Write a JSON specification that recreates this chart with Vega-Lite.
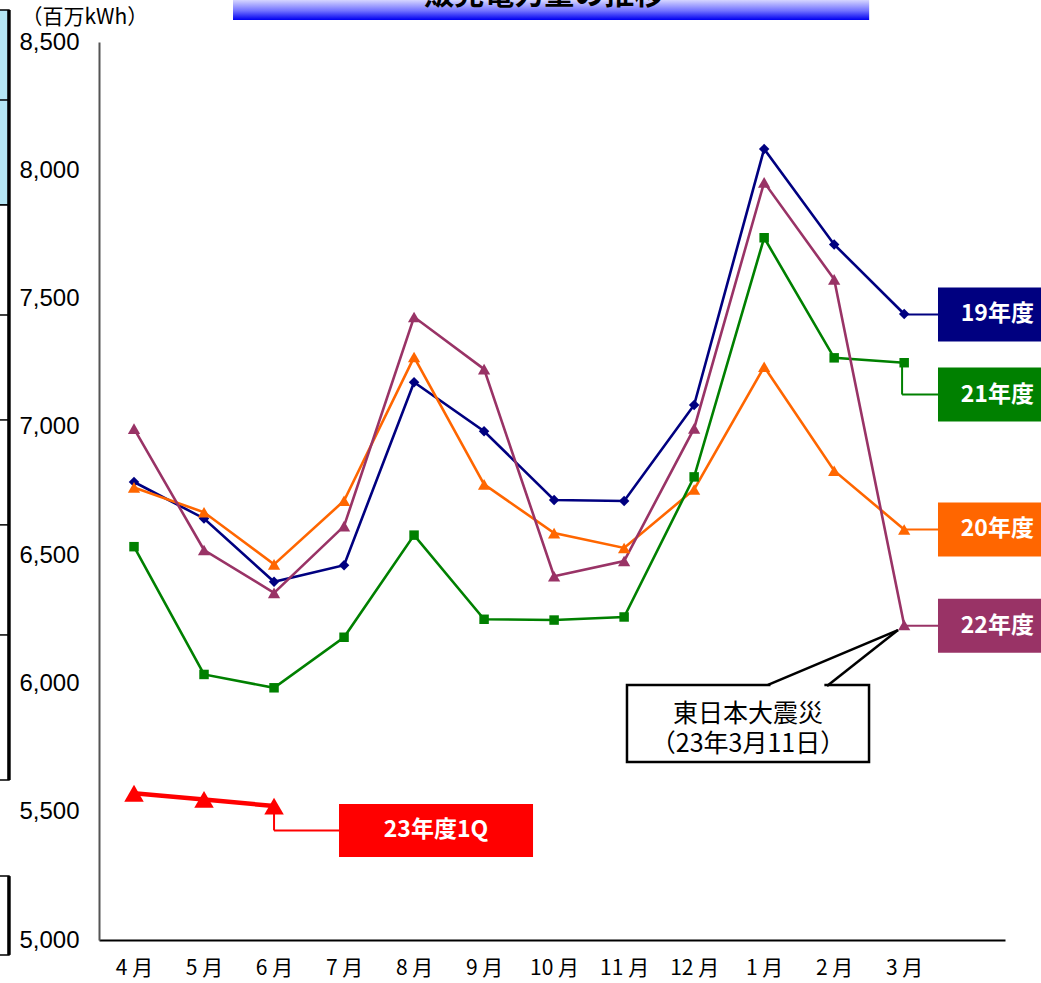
{
  "$schema": "https://vega.github.io/schema/vega-lite/v6.json",
  "width": 906,
  "height": 898,
  "autosize": {"type": "none"},
  "padding": {"left": 99, "top": 42, "right": 36, "bottom": 43},
  "background": "white",
  "config": {"view": {"stroke": null}, "font": "Noto Sans CJK JP"},
  "datasets": {
    "sales": [
      {"month": "4 月", "m": 1, "series": "19年度", "value": 6785},
      {"month": "5 月", "m": 2, "series": "19年度", "value": 6643},
      {"month": "6 月", "m": 3, "series": "19年度", "value": 6396},
      {"month": "7 月", "m": 4, "series": "19年度", "value": 6461},
      {"month": "8 月", "m": 5, "series": "19年度", "value": 7174},
      {"month": "9 月", "m": 6, "series": "19年度", "value": 6983},
      {"month": "10 月", "m": 7, "series": "19年度", "value": 6715},
      {"month": "11 月", "m": 8, "series": "19年度", "value": 6711},
      {"month": "12 月", "m": 9, "series": "19年度", "value": 7085},
      {"month": "1 月", "m": 10, "series": "19年度", "value": 8083},
      {"month": "2 月", "m": 11, "series": "19年度", "value": 7711},
      {"month": "3 月", "m": 12, "series": "19年度", "value": 7440},
      {"month": "4 月", "m": 1, "series": "20年度", "value": 6764},
      {"month": "5 月", "m": 2, "series": "20年度", "value": 6667},
      {"month": "6 月", "m": 3, "series": "20年度", "value": 6464},
      {"month": "7 月", "m": 4, "series": "20年度", "value": 6712},
      {"month": "8 月", "m": 5, "series": "20年度", "value": 7272},
      {"month": "9 月", "m": 6, "series": "20年度", "value": 6776},
      {"month": "10 月", "m": 7, "series": "20年度", "value": 6586},
      {"month": "11 月", "m": 8, "series": "20年度", "value": 6528},
      {"month": "12 月", "m": 9, "series": "20年度", "value": 6756},
      {"month": "1 月", "m": 10, "series": "20年度", "value": 7234},
      {"month": "2 月", "m": 11, "series": "20年度", "value": 6829},
      {"month": "3 月", "m": 12, "series": "20年度", "value": 6600},
      {"month": "4 月", "m": 1, "series": "21年度", "value": 6533},
      {"month": "5 月", "m": 2, "series": "21年度", "value": 6035},
      {"month": "6 月", "m": 3, "series": "21年度", "value": 5983},
      {"month": "7 月", "m": 4, "series": "21年度", "value": 6180},
      {"month": "8 月", "m": 5, "series": "21年度", "value": 6578},
      {"month": "9 月", "m": 6, "series": "21年度", "value": 6250},
      {"month": "10 月", "m": 7, "series": "21年度", "value": 6247},
      {"month": "11 月", "m": 8, "series": "21年度", "value": 6259},
      {"month": "12 月", "m": 9, "series": "21年度", "value": 6805},
      {"month": "1 月", "m": 10, "series": "21年度", "value": 7737},
      {"month": "2 月", "m": 11, "series": "21年度", "value": 7269},
      {"month": "3 月", "m": 12, "series": "21年度", "value": 7250},
      {"month": "4 月", "m": 1, "series": "22年度", "value": 6993},
      {"month": "5 月", "m": 2, "series": "22年度", "value": 6520},
      {"month": "6 月", "m": 3, "series": "22年度", "value": 6353},
      {"month": "7 月", "m": 4, "series": "22年度", "value": 6613},
      {"month": "8 月", "m": 5, "series": "22年度", "value": 7428},
      {"month": "9 月", "m": 6, "series": "22年度", "value": 7225},
      {"month": "10 月", "m": 7, "series": "22年度", "value": 6418},
      {"month": "11 月", "m": 8, "series": "22年度", "value": 6477},
      {"month": "12 月", "m": 9, "series": "22年度", "value": 6994},
      {"month": "1 月", "m": 10, "series": "22年度", "value": 7953},
      {"month": "2 月", "m": 11, "series": "22年度", "value": 7575},
      {"month": "3 月", "m": 12, "series": "22年度", "value": 6228},
      {"month": "4 月", "m": 1, "series": "23年度1Q", "value": 5572},
      {"month": "5 月", "m": 2, "series": "23年度1Q", "value": 5548},
      {"month": "6 月", "m": 3, "series": "23年度1Q", "value": 5522}
    ],
    "labels": [
      {"series": "19年度", "end": 7440, "lv": 7438},
      {"series": "21年度", "end": 7250, "lv": 7126},
      {"series": "20年度", "end": 6600, "lv": 6600},
      {"series": "22年度", "end": 6228, "lv": 6225},
      {"series": "23年度1Q", "end": 5522, "lv": 5427}
    ],
    "note": [
      {"text": "東日本大震災\n（23年3月11日）"}
    ],
    "title": [
      {"text": "販売電力量の推移"}
    ]
  },
  "layer": [
    {
      "data": {"name": "sales"},
      "transform": [{"filter": "datum.series !== '23年度1Q'"}],
      "mark": {"type": "line", "strokeWidth": 2.6},
      "encoding": {
        "x": {
          "field": "m", "type": "quantitative",
          "scale": {"domain": [0.5, 13.44], "nice": false, "zero": false},
          "axis": {
            "title": null,
            "values": [1, 2, 3, 4, 5, 6, 7, 8, 9, 10, 11, 12],
            "labelExpr": "['', '4 月', '5 月', '6 月', '7 月', '8 月', '9 月', '10 月', '11 月', '12 月', '1 月', '2 月', '3 月'][datum.value]",
            "labelFont": "Noto Sans CJK JP",
            "labelFontSize": 21,
            "labelColor": "black",
            "labelPadding": 17,
            "labelFlush": false,
            "labelOverlap": false,
            "ticks": false,
            "tickSize": 0,
            "grid": false,
            "domainColor": "black",
            "domainWidth": 2
          }
        },
        "y": {
          "field": "value", "type": "quantitative",
          "scale": {"domain": [5000, 8500], "nice": false, "zero": false},
          "axis": {
            "title": "（百万kWh）",
            "titleAngle": 0,
            "titleAlign": "left",
            "titleBaseline": "middle",
            "titleX": -78,
            "titleY": -25,
            "titleFont": "Noto Sans CJK JP",
            "titleFontSize": 21,
            "titleFontWeight": "normal",
            "titleColor": "black",
            "values": [5000, 5500, 6000, 6500, 7000, 7500, 8000, 8500],
            "labelExpr": "format(datum.value, ',')",
            "labelFont": "Liberation Sans",
            "labelFontSize": 24,
            "labelColor": "black",
            "labelPadding": 20,
            "labelOverlap": false,
            "labelFlush": false,
            "ticks": false,
            "tickSize": 0,
            "grid": false,
            "domainColor": "#555555",
            "domainWidth": 2
          }
        },
        "color": {
          "field": "series", "type": "nominal",
          "scale": {
            "domain": ["19年度", "20年度", "21年度", "22年度", "23年度1Q"],
            "range": ["#000080", "#FF6600", "#008000", "#993366", "#FF0000"]
          },
          "legend": null
        }
      }
    },
    {
      "data": {"values": [{}]},
      "mark": {"type": "rect", "fill": "#b4e6f4", "stroke": "black", "strokeWidth": 1.5},
      "encoding": {
        "x": {"datum": -1.0},
        "x2": {"datum": -0.786},
        "y": {"datum": 8625},
        "y2": {"datum": 7865}
      }
    },
    {
      "data": {"values": [{}]},
      "mark": {"type": "rect", "fill": "white", "stroke": "black", "strokeWidth": 1.5},
      "encoding": {
        "x": {"datum": -1.0},
        "x2": {"datum": -0.786},
        "y": {"datum": 7865},
        "y2": {"datum": 5624}
      }
    },
    {
      "data": {"values": [{"v": 8274}, {"v": 7436}, {"v": 7027}, {"v": 6618}, {"v": 6189}]},
      "mark": {"type": "rule", "color": "black", "strokeWidth": 1.5},
      "encoding": {
        "x": {"datum": -1.0},
        "x2": {"datum": -0.786},
        "y": {"field": "v", "type": "quantitative"}
      }
    },
    {
      "data": {"values": [{}]},
      "mark": {"type": "rule", "color": "black", "strokeWidth": 3.5},
      "encoding": {
        "x": {"datum": -0.786},
        "y": {"datum": 8625},
        "y2": {"datum": 5624}
      }
    },
    {
      "data": {"values": [{}]},
      "mark": {"type": "rect", "fill": "white", "stroke": "black", "strokeWidth": 1.5},
      "encoding": {
        "x": {"datum": -1.0},
        "x2": {"datum": -0.786},
        "y": {"datum": 5249},
        "y2": {"datum": 4942}
      }
    },
    {
      "data": {"values": [{}]},
      "mark": {"type": "rule", "color": "black", "strokeWidth": 3.5},
      "encoding": {
        "x": {"datum": -0.786},
        "y": {"datum": 5249},
        "y2": {"datum": 4942}
      }
    },
    {
      "data": {"values": [{}]},
      "mark": {
        "type": "rect",
        "fill": {
          "gradient": "linear", "x1": 0, "y1": 0, "x2": 0, "y2": 1,
          "stops": [
            {"offset": 0, "color": "#ffffff"},
            {"offset": 0.55, "color": "#d8d8ff"},
            {"offset": 0.8, "color": "#7070ff"},
            {"offset": 1, "color": "#0000f0"}
          ]
        }
      },
      "encoding": {
        "x": {"datum": 2.414},
        "x2": {"datum": 11.5},
        "y": {"datum": 8761},
        "y2": {"datum": 8586}
      }
    },
    {
      "data": {"name": "title"},
      "mark": {"type": "text", "fontSize": 30, "fontWeight": "bold", "color": "black", "baseline": "alphabetic", "align": "center", "font": "Noto Sans CJK JP"},
      "encoding": {
        "x": {"datum": 6.86},
        "y": {"datum": 8648},
        "text": {"field": "text"}
      }
    },
    {
      "data": {"name": "labels"},
      "transform": [{"filter": "datum.series !== '23年度1Q'"}],
      "mark": {"type": "rule", "strokeWidth": 2},
      "encoding": {
        "x": {"datum": 11.97},
        "y": {"field": "end", "type": "quantitative"},
        "y2": {"field": "lv"},
        "color": {"field": "series", "type": "nominal", "legend": null}
      }
    },
    {
      "data": {"name": "labels"},
      "transform": [{"filter": "datum.series !== '23年度1Q'"}],
      "mark": {"type": "rule", "strokeWidth": 2},
      "encoding": {
        "x": {"datum": 11.97},
        "x2": {"datum": 12.483},
        "y": {"field": "lv", "type": "quantitative"},
        "color": {"field": "series", "type": "nominal", "legend": null}
      }
    },
    {
      "data": {"name": "labels"},
      "transform": [{"filter": "datum.series === '23年度1Q'"}],
      "mark": {"type": "rule", "strokeWidth": 2},
      "encoding": {
        "x": {"datum": 3},
        "y": {"field": "end", "type": "quantitative"},
        "y2": {"field": "lv"},
        "color": {"field": "series", "type": "nominal", "legend": null}
      }
    },
    {
      "data": {"name": "labels"},
      "transform": [{"filter": "datum.series === '23年度1Q'"}],
      "mark": {"type": "rule", "strokeWidth": 2},
      "encoding": {
        "x": {"datum": 3},
        "x2": {"datum": 3.928},
        "y": {"field": "lv", "type": "quantitative"},
        "color": {"field": "series", "type": "nominal", "legend": null}
      }
    },
    {
      "data": {"name": "sales"},
      "transform": [{"filter": "datum.series === '19年度'"}],
      "mark": {"type": "point", "filled": true, "opacity": 1, "shape": "diamond", "size": 110},
      "encoding": {
        "x": {"field": "m", "type": "quantitative"},
        "y": {"field": "value", "type": "quantitative"},
        "color": {"field": "series", "type": "nominal", "legend": null}
      }
    },
    {
      "data": {"name": "sales"},
      "transform": [{"filter": "datum.series === '21年度'"}],
      "mark": {"type": "point", "filled": true, "opacity": 1, "shape": "square", "size": 90},
      "encoding": {
        "x": {"field": "m", "type": "quantitative"},
        "y": {"field": "value", "type": "quantitative"},
        "color": {"field": "series", "type": "nominal", "legend": null}
      }
    },
    {
      "data": {"name": "sales"},
      "transform": [{"filter": "datum.series === '20年度' || datum.series === '22年度'"}],
      "mark": {"type": "point", "filled": true, "opacity": 1, "shape": "triangle-up", "size": 150},
      "encoding": {
        "x": {"field": "m", "type": "quantitative"},
        "y": {"field": "value", "type": "quantitative"},
        "color": {"field": "series", "type": "nominal", "legend": null}
      }
    },
    {
      "data": {"name": "sales"},
      "transform": [{"filter": "datum.series === '23年度1Q'"}],
      "mark": {"type": "line", "strokeWidth": 4.5},
      "encoding": {
        "x": {"field": "m", "type": "quantitative"},
        "y": {"field": "value", "type": "quantitative"},
        "color": {"field": "series", "type": "nominal", "legend": null}
      }
    },
    {
      "data": {"name": "sales"},
      "transform": [{"filter": "datum.series === '23年度1Q'"}],
      "mark": {"type": "point", "filled": true, "opacity": 1, "size": 380, "shape": "triangle-up"},
      "encoding": {
        "x": {"field": "m", "type": "quantitative"},
        "y": {"field": "value", "type": "quantitative"},
        "color": {"field": "series", "type": "nominal", "legend": null}
      }
    },
    {
      "data": {"name": "labels"},
      "transform": [{"filter": "datum.series !== '23年度1Q'"}],
      "mark": {"type": "rect", "height": 54},
      "encoding": {
        "x": {"datum": 12.483},
        "x2": {"datum": 14.4},
        "y": {"field": "lv", "type": "quantitative"},
        "color": {"field": "series", "type": "nominal", "legend": null}
      }
    },
    {
      "data": {"name": "labels"},
      "transform": [{"filter": "datum.series !== '23年度1Q'"}],
      "mark": {"type": "text", "color": "white", "fontSize": 23, "fontWeight": "bold", "font": "Noto Sans CJK JP", "align": "center", "baseline": "middle"},
      "encoding": {
        "x": {"datum": 13.33},
        "y": {"field": "lv", "type": "quantitative"},
        "text": {"field": "series"}
      }
    },
    {
      "data": {"name": "labels"},
      "transform": [{"filter": "datum.series === '23年度1Q'"}],
      "mark": {"type": "rect", "height": 53},
      "encoding": {
        "x": {"datum": 3.928},
        "x2": {"datum": 6.699},
        "y": {"field": "lv", "type": "quantitative"},
        "color": {"field": "series", "type": "nominal", "legend": null}
      }
    },
    {
      "data": {"name": "labels"},
      "transform": [{"filter": "datum.series === '23年度1Q'"}],
      "mark": {"type": "text", "color": "white", "fontSize": 23, "fontWeight": "bold", "font": "Noto Sans CJK JP", "align": "center", "baseline": "middle"},
      "encoding": {
        "x": {"datum": 5.313},
        "y": {"field": "lv", "type": "quantitative"},
        "text": {"field": "series"}
      }
    },
    {
      "data": {"values": [{}]},
      "mark": {"type": "rect", "fill": "white", "stroke": "black", "strokeWidth": 2.5},
      "encoding": {
        "x": {"datum": 8.041},
        "x2": {"datum": 11.498},
        "y": {"datum": 5994},
        "y2": {"datum": 5694}
      }
    },
    {
      "data": {"values": [{}]},
      "mark": {"type": "rule", "color": "white", "strokeWidth": 4},
      "encoding": {
        "x": {"datum": 10.09},
        "x2": {"datum": 10.86},
        "y": {"datum": 5994}
      }
    },
    {
      "data": {"values": [{}]},
      "mark": {"type": "rule", "color": "black", "strokeWidth": 2.5},
      "encoding": {
        "x": {"datum": 10.055},
        "x2": {"datum": 11.912},
        "y": {"datum": 5994},
        "y2": {"datum": 6208}
      }
    },
    {
      "data": {"values": [{}]},
      "mark": {"type": "rule", "color": "black", "strokeWidth": 2.5},
      "encoding": {
        "x": {"datum": 10.898},
        "x2": {"datum": 11.912},
        "y": {"datum": 5990},
        "y2": {"datum": 6208}
      }
    },
    {
      "data": {"name": "note"},
      "mark": {"type": "text", "color": "black", "fontSize": 25, "font": "Noto Sans CJK JP", "align": "center", "baseline": "middle", "lineBreak": "\n", "lineHeight": 30},
      "encoding": {
        "x": {"datum": 9.769},
        "y": {"datum": 5880},
        "text": {"field": "text"}
      }
    }
  ]
}
